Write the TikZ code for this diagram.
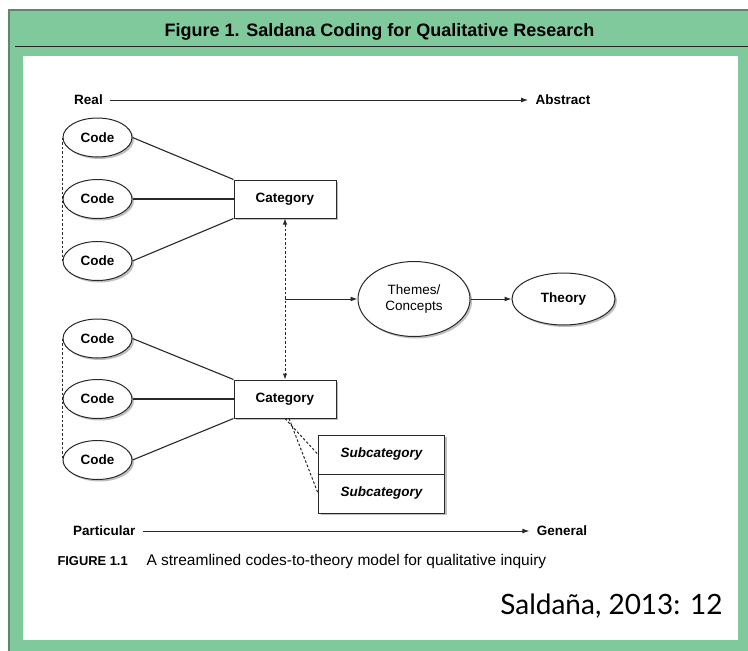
\documentclass[tikz,border=0pt]{standalone}
\usepackage{fontspec}
\setmainfont{Liberation Sans}
\newfontfamily\sigfont{Lato}
\usetikzlibrary{shapes.geometric, arrows.meta, shadows}
\definecolor{panelgreen}{RGB}{127,201,157}
\definecolor{paneledge}{RGB}{96,134,108}
\definecolor{ink}{RGB}{40,40,40}

\begin{document}
\begin{tikzpicture}[x = 1pt, y = -1pt, line width = 1pt,
        font = \fontsize{13.5}{16}\selectfont\bfseries,
        shade/.style = {drop shadow = {shadow xshift = 2pt, shadow yshift = -2pt, fill = gray, opacity = 0.5}},
        code/.style = {ellipse, draw = ink, fill = white, shade, minimum width = 69pt, minimum height = 39pt, inner sep = 0pt},
        catbox/.style = {rectangle, draw = ink, fill = white, shade, minimum width = 102pt, minimum height = 38pt},
        subbox/.style = {rectangle, draw = ink, fill = white, shade, minimum width = 126pt, minimum height = 39pt, font = \fontsize{13.5}{16}\selectfont\bfseries\itshape},
        axis/.style = {inner xsep = 7pt, inner ysep = 0pt},
        arr/.style = {ink, -{Latex[length = 7pt, width = 5pt]}},
        link/.style = {ink, line width = 1.1pt},
        dots/.style = {ink, dash pattern = on 2.5pt off 2pt}]
        \useasboundingbox (0,0) rectangle (748,651);
        
        % frame and panel
        \fill [panelgreen] (9,10) rectangle (748,651);
        \draw [paneledge, line width = 1.2pt] (9,651) -- (9,10) -- (748,10);
        \draw [black!85, line width = 1.6pt] (15,46.5) -- (748,46.5);
        \fill [white] (23,56) rectangle (738,640);
        \node [anchor = base, font = \fontsize{18}{20}\selectfont\bfseries] (title) at (379.5,36) {Figure 1. Saldana Coding for Qualitative Research};
        
        % axes
        \node [axis] (real) at (88.5,100) {Real};
        \node [axis] (abstract) at (563,100) {Abstract};
        \draw [arr] (real) -- (abstract);
        
        \node [axis] (particular) at (104.3,531) {Particular};
        \node [axis] (general) at (562,531) {General};
        \draw [arr] (particular) -- (general);
        
        % codes
        \node [code] (codeA) at (97.5,137.5) {Code};
        \node [code] (codeB) at (97.5,199) {Code};
        \node [code] (codeC) at (97.5,261) {Code};
        \node [code] (codeD) at (97.5,338.5) {Code};
        \node [code] (codeE) at (97.5,399) {Code};
        \node [code] (codeF) at (97.5,460) {Code};
        
        \draw [dots] (codeA.west) -- (codeC.west);
        \draw [dots] (codeD.west) -- (codeF.west);
        
        % categories
        \node [catbox] (catA) at (285,199) {Category};
        \node [catbox] (catB) at (285,399) {Category};
        
        \draw [link] (codeA.east) -- (catA.north west);
        \draw [link] (codeB.east) -- (catA.west);
        \draw [link] (codeC.east) -- (catA.south west);
        
        \draw [link] (codeD.east) -- (catB.north west);
        \draw [link] (codeE.east) -- (catB.west);
        \draw [link] (codeF.east) -- (catB.south west);
        
        \draw [dots, {Latex[length = 6pt, width = 4.5pt]}-{Latex[length = 6pt, width = 4.5pt]}] (catA.south) -- (catB.north);
        \path (catA.south) -- coordinate[midway] (mid) (catB.north);
        
        % themes and theory
        \node [ellipse, draw = ink, fill = white, shade, minimum width = 112pt, minimum height = 75pt, inner sep = 0pt, align = center, font = \fontsize{13.5}{16.5}\selectfont] (themes) at (414,299) {Themes/\\Concepts};
        \node [ellipse, draw = ink, fill = white, shade, minimum width = 103pt, minimum height = 52pt, inner sep = 0pt] (theory) at (563.5,299) {Theory};
        
        \draw [arr] (mid) -- (themes);
        \draw [arr] (themes) -- (theory);
        
        % subcategories
        \node [subbox] (subA) at (381.6,454.5) {Subcategory};
        \node [subbox] (subB) at (381.6,493.5) {Subcategory};
        
        \draw [dots] (catB.south) -- (subA.west);
        \draw [dots] ([xshift = 4pt]catB.south) -- (subB.west);
        
        % caption and source
        \node [anchor = base west, inner sep = 0pt, font = \fontsize{12.9}{15}\selectfont\bfseries] (figno) at (57,565) {FIGURE 1.1};
        \node [anchor = base west, inner sep = 0pt, font = \fontsize{15.5}{18}\selectfont] (caption) at (146,565) {A streamlined codes-to-theory model for qualitative inquiry};
        \node [anchor = base east, inner sep = 0pt, font = \fontsize{28}{32}\selectfont\sigfont] (source) at (723,614) {Saldaña, 2013: 12};
    \end{tikzpicture}
\end{document}
